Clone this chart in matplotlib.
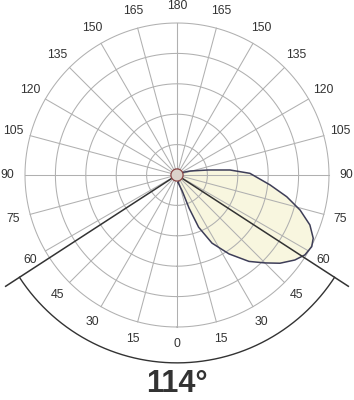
import numpy as np
import matplotlib
matplotlib.use('Agg')
import matplotlib.pyplot as plt

plt.rcParams['font.family'] = ['Liberation Sans', 'DejaVu Sans']

# ---- data ----
grid_radii = [1, 2, 3, 4, 5]
spoke_angles = list(range(-180, 181, 15))          # degrees from nadir
label_angles = list(range(-165, 181, 15))
label_texts = [str(abs(a)) for a in label_angles]
lobe_gamma = [8, 18, 20, 22.5, 27.2, 33.4, 39.8, 45.0, 49.4, 54.2, 58.0,
              62.0, 65.1, 69.4, 74.1, 78.8, 83.9, 91.3, 95.4, 99.1, 107, 115]
lobe_intensity = [0.25, 0.55, 1.16, 1.86, 2.52, 3.11, 3.70, 4.09, 4.46, 4.78, 4.96,
                  5.02, 4.94, 4.67, 4.21, 3.68, 3.08, 2.40, 1.75, 1.04, 0.45, 0.2]
beam_angle = 114
title_text = "114°"

# ---- layout ----
W, H = 354, 400
cx, cy = 177, 175
unit = 30.4
rmax = 7.2
rad_px = rmax * unit

fig = plt.figure(figsize=(W / 100, H / 100), dpi=100)
ax = fig.add_axes([(cx - rad_px) / W, (H - cy - rad_px) / H, 2 * rad_px / W, 2 * rad_px / H],
                  projection='polar')
ax.set_theta_zero_location('S')
ax.set_theta_direction(1)
ax.set_ylim(0, rmax)
ax.axis('off')

grid_color = '#b0b0b0'
full = np.linspace(0, 2 * np.pi, 721)

# lobe fill
th_lobe = np.deg2rad(lobe_gamma)
ax.fill(th_lobe, lobe_intensity, color='#f8f6df', zorder=1, lw=0)

# grid
for r in grid_radii:
    ax.plot(full, np.full_like(full, r), color=grid_color, lw=0.75, zorder=2)
for a in spoke_angles:
    ax.plot([np.deg2rad(a)] * 2, [0, grid_radii[-1]], color=grid_color, lw=0.75, zorder=2)

# lobe outline
ax.plot(np.append(th_lobe, th_lobe[0]), lobe_intensity + [lobe_intensity[0]],
        color='#3e3e58', lw=1.1, zorder=3, solid_joinstyle='round')

# beam angle lines and arc
half = beam_angle / 2
for s in (-1, 1):
    ax.plot([np.deg2rad(s * half)] * 2, [0, 6.72], color='#333333', lw=1.1, zorder=4)
arc = np.deg2rad(np.linspace(-half, half, 300))
ax.plot(arc, np.full_like(arc, 6.18), color='#333333', lw=1.0, zorder=4)

# small center circle
ax.fill(full, np.full_like(full, 0.2), facecolor='#dcd3cb', edgecolor='#8a4646',
        lw=0.9, zorder=5)

# angle labels
for a, t in zip(label_angles, label_texts):
    ax.text(np.deg2rad(a), 5.57, t, ha='center', va='center', fontsize=8.8,
            color='#333333', zorder=6)

fig.text(0.5, 0.5 / H, title_text, ha='center', va='bottom', fontsize=22,
         fontweight='bold', color='#333333')

fig.savefig('out.png', dpi=100, facecolor='white')
